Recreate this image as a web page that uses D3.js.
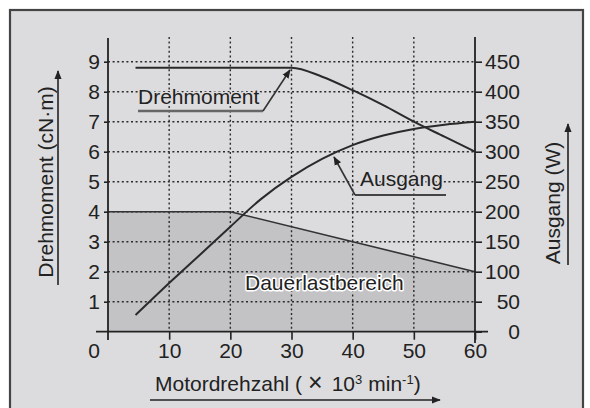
<!DOCTYPE html>
<html>
<head>
<meta charset="utf-8">
<script src="https://cdn.jsdelivr.net/npm/d3@7"></script>
<style>
  body { margin: 0; background: #fff; }
  svg text { font-family: "Liberation Sans", Arial, sans-serif; font-size: 21px; fill: #222; }
  .grid line { stroke: #2a2a2a; stroke-width: 1.4; stroke-dasharray: 2,2.6; }
  .axis path.domain { display: none; }
  .axis line { stroke: #222; stroke-width: 1.6; }
</style>
</head>
<body>
<svg id="chart" width="590" height="408"></svg>
<script>
// data
const xTicks = [10, 20, 30, 40, 50, 60];
const leftTicks = [1, 2, 3, 4, 5, 6, 7, 8, 9];
const rightTicks = [0, 50, 100, 150, 200, 250, 300, 350, 400, 450];

// Drehmoment (cN·m) vs. Motordrehzahl
const torqueSpeed = [4.5, 20, 30, 35, 40, 45, 50, 55, 60];
const torque      = [8.8, 8.8, 8.8, 8.5, 8.05, 7.55, 7.0, 6.5, 6.0];

// Ausgang (W)
const outSpeed = [4.5, 10, 15, 20, 25, 30, 35, 40, 45, 50, 55, 60];
const output   = [28, 81, 128, 175, 221, 258, 288, 311, 327, 338, 345, 350];

// Dauerlastbereich boundary (cN·m)
const contSpeed  = [0, 20, 60];
const contTorque = [4, 4, 2];

const svg = d3.select("#chart");

let x = d3.scaleLinear().domain([0, 60]).range([108, 475]);
let yL = d3.scaleLinear().domain([0, 9]).range([331.7, 61.7]);
let yR = d3.scaleLinear().domain([0, 450]).range([331.7, 61.7]);

// frame + background
svg.append("rect")
  .attr("x", 10).attr("y", 10)
  .attr("width", 573).attr("height", 410)
  .attr("fill", "#dcdcde")
  .attr("stroke", "#444")
  .attr("stroke-width", 2.2);

svg.append("defs").append("marker")
  .attr("id", "arrow")
  .attr("viewBox", "0 0 10 10")
  .attr("refX", 9).attr("refY", 5)
  .attr("markerWidth", 9).attr("markerHeight", 9)
  .attr("markerUnits", "userSpaceOnUse")
  .attr("orient", "auto")
  .append("path")
  .attr("d", "M0,1 L10,5 L0,9 Z")
  .attr("fill", "#222");

// continuous load area
let area = contSpeed.map((s, i) => [s, contTorque[i]]);
svg.append("path")
  .datum(area)
  .attr("fill", "#c3c3c6")
  .attr("d", d3.area().x(d => x(d[0])).y0(yL(0)).y1(d => yL(d[1])));

// grid
let grid = svg.append("g").attr("class", "grid");
grid.selectAll("line.v")
  .data(xTicks.filter(d => d < 60))
  .enter().append("line")
  .attr("x1", d => x(d)).attr("x2", d => x(d))
  .attr("y1", 37).attr("y2", yL(0));
grid.selectAll("line.h")
  .data(leftTicks)
  .enter().append("line")
  .attr("x1", x(0)).attr("x2", x(60))
  .attr("y1", d => yL(d)).attr("y2", d => yL(d));

svg.append("path")
  .datum(area)
  .attr("fill", "none")
  .attr("stroke", "#333")
  .attr("stroke-width", 1.6)
  .attr("d", d3.line().x(d => x(d[0])).y(d => yL(d[1])));

// axes
svg.append("g")
  .attr("class", "axis")
  .attr("transform", `translate(${x(0)},0)`)
  .call(d3.axisLeft(yL).tickValues(leftTicks).tickSize(4).tickPadding(4));

let right = svg.append("g")
  .attr("class", "axis")
  .attr("transform", `translate(${x(60)},0)`)
  .call(d3.axisRight(yR).tickValues(rightTicks).tickSize(7));
right.selectAll("text").attr("x", 45).style("text-anchor", "end");

svg.append("g")
  .attr("class", "axis")
  .attr("transform", `translate(0,${yL(0)})`)
  .call(d3.axisBottom(x).tickValues(xTicks).tickSize(8).tickPadding(3));

svg.append("text")
  .attr("x", 94).attr("y", 358)
  .style("text-anchor", "middle")
  .text("0");

// axis lines
let axLine = [[x(0), 38, x(0), 340], [x(60), 37, x(60), 343], [96, yL(0), 488, yL(0)]];
svg.selectAll("line.ax")
  .data(axLine)
  .enter().append("line")
  .attr("x1", d => d[0]).attr("y1", d => d[1])
  .attr("x2", d => d[2]).attr("y2", d => d[3])
  .attr("stroke", "#222").attr("stroke-width", 1.8);

// curves
svg.append("path")
  .datum(torqueSpeed.map((s, i) => [s, torque[i]]))
  .attr("fill", "none").attr("stroke", "#2a2a2a").attr("stroke-width", 2)
  .attr("d", d3.line().curve(d3.curveMonotoneX).x(d => x(d[0])).y(d => yL(d[1])));

svg.append("path")
  .datum(outSpeed.map((s, i) => [s, output[i]]))
  .attr("fill", "none").attr("stroke", "#2a2a2a").attr("stroke-width", 2)
  .attr("d", d3.line().curve(d3.curveCatmullRom).x(d => x(d[0])).y(d => yR(d[1])));

// callouts
function halo(sel, col) {
  sel.style("paint-order", "stroke").style("stroke", col)
     .style("stroke-width", 3).style("stroke-linejoin", "round");
}

svg.append("text").attr("x", 138).attr("y", 104).text("Drehmoment").call(halo, "#dcdcde");
svg.append("line").attr("x1", 138).attr("y1", 111).attr("x2", 263).attr("y2", 111)
  .attr("stroke", "#666").attr("stroke-width", 2.5);
svg.append("line").attr("x1", 263).attr("y1", 111).attr("x2", 290).attr("y2", 70)
  .attr("stroke", "#333").attr("stroke-width", 1.6).attr("marker-end", "url(#arrow)");

svg.append("text").attr("x", 360).attr("y", 186).text("Ausgang").call(halo, "#dcdcde");
svg.append("line").attr("x1", 355).attr("y1", 195).attr("x2", 446).attr("y2", 195)
  .attr("stroke", "#444").attr("stroke-width", 1.8);
svg.append("line").attr("x1", 355).attr("y1", 195).attr("x2", 334).attr("y2", 157)
  .attr("stroke", "#333").attr("stroke-width", 1.6).attr("marker-end", "url(#arrow)");

svg.append("text").attr("x", 245).attr("y", 290).text("Dauerlastbereich").call(halo, "#fff");

// axis titles
svg.append("text")
  .attr("transform", "translate(53,182) rotate(-90)")
  .style("text-anchor", "middle")
  .text("Drehmoment (cN·m)");
svg.append("line").attr("x1", 58).attr("y1", 285).attr("x2", 58).attr("y2", 71)
  .attr("stroke", "#222").attr("stroke-width", 1.6).attr("marker-end", "url(#arrow)");

svg.append("text")
  .attr("transform", "translate(560,203) rotate(-90)")
  .style("text-anchor", "middle")
  .text("Ausgang (W)");
svg.append("line").attr("x1", 568).attr("y1", 265).attr("x2", 568).attr("y2", 124)
  .attr("stroke", "#222").attr("stroke-width", 1.6).attr("marker-end", "url(#arrow)");

let xt = svg.append("text").attr("x", 155).attr("y", 391);
xt.append("tspan").text("Motordrehzahl (");
xt.append("tspan").attr("dx", 6).style("font-size", "25px").style("font-weight", "300").text("×");
xt.append("tspan").attr("dx", 9).text("10");
xt.append("tspan").attr("dy", -7).style("font-size", "13px").text("3");
xt.append("tspan").attr("dy", 7).attr("dx", 6).text("min");
xt.append("tspan").attr("dy", -7).style("font-size", "13px").text("-1");
xt.append("tspan").attr("dy", 7).text(")");
svg.append("line").attr("x1", 150).attr("y1", 400).attr("x2", 440).attr("y2", 400)
  .attr("stroke", "#222").attr("stroke-width", 1.6).attr("marker-end", "url(#arrow)");
</script>
</body>
</html>
